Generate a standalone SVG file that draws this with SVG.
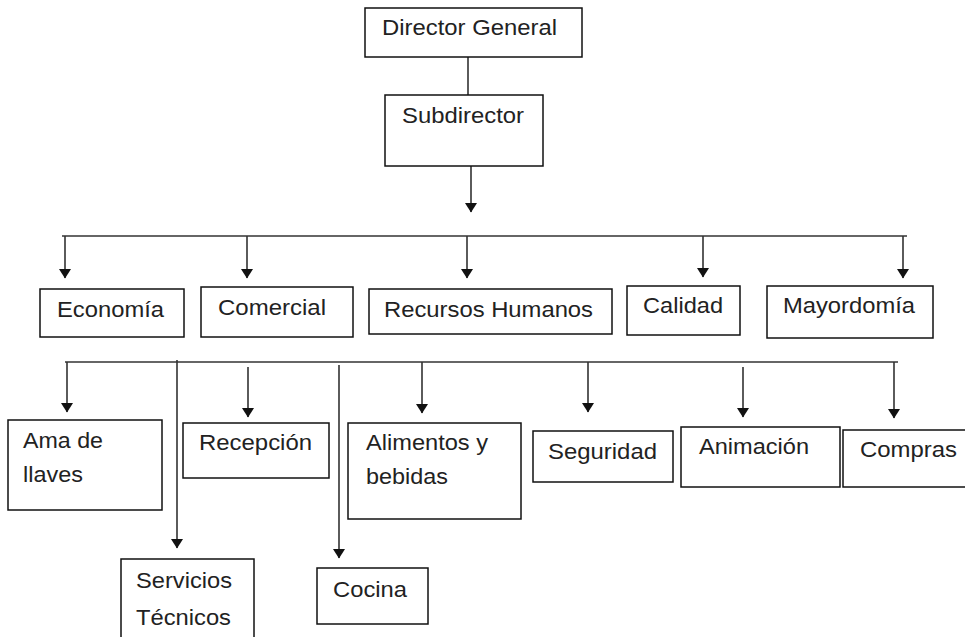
<svg xmlns="http://www.w3.org/2000/svg" width="965" height="637" viewBox="0 0 965 637">
<defs>
<style>
.box{fill:#fff;stroke:#111;stroke-width:1.5}
.lbl{font-family:"Liberation Sans",Arial,sans-serif;font-size:22px;fill:#222}
.con{stroke:#333;stroke-width:1.6;fill:none}
</style>
<marker id="ad" markerUnits="userSpaceOnUse" markerWidth="12" markerHeight="10" refX="6" refY="9" orient="0" viewBox="0 0 12 10">
<path d="M0,0 L12,0 L6,9.5 Z" fill="#111"/>
</marker>
</defs>
<rect width="965" height="637" fill="#fff"/>
<g id="connectors">
<line class="con" x1="468" y1="57" x2="468" y2="95"/>
<line class="con" x1="471" y1="166" x2="471" y2="212" marker-end="url(#ad)"/>
<line class="con" x1="62" y1="236" x2="907" y2="236"/>
<line class="con" x1="65" y1="236" x2="65" y2="278" marker-end="url(#ad)"/>
<line class="con" x1="247" y1="236" x2="247" y2="278" marker-end="url(#ad)"/>
<line class="con" x1="467" y1="236" x2="467" y2="278" marker-end="url(#ad)"/>
<line class="con" x1="703" y1="236" x2="703" y2="277" marker-end="url(#ad)"/>
<line class="con" x1="903" y1="236" x2="903" y2="278" marker-end="url(#ad)"/>
<line class="con" x1="65" y1="362" x2="898" y2="362"/>
<line class="con" x1="67" y1="362" x2="67" y2="412" marker-end="url(#ad)"/>
<line class="con" x1="177" y1="360" x2="177" y2="548" marker-end="url(#ad)"/>
<line class="con" x1="248" y1="367" x2="248" y2="417" marker-end="url(#ad)"/>
<line class="con" x1="339" y1="365" x2="339" y2="558" marker-end="url(#ad)"/>
<line class="con" x1="422" y1="362" x2="422" y2="413" marker-end="url(#ad)"/>
<line class="con" x1="588" y1="362" x2="588" y2="412" marker-end="url(#ad)"/>
<line class="con" x1="743" y1="367" x2="743" y2="417" marker-end="url(#ad)"/>
<line class="con" x1="894" y1="362" x2="894" y2="418" marker-end="url(#ad)"/>
</g>
<g id="director-general"><rect class="box" x="365" y="8" width="217" height="49"/><text class="lbl" x="382" y="35" textLength="175" lengthAdjust="spacingAndGlyphs">Director General</text></g>
<g id="subdirector"><rect class="box" x="385" y="95" width="158" height="71"/><text class="lbl" x="402" y="123" textLength="122" lengthAdjust="spacingAndGlyphs">Subdirector</text></g>
<g id="economia"><rect class="box" x="40" y="289" width="144" height="48"/><text class="lbl" x="57" y="317" textLength="107" lengthAdjust="spacingAndGlyphs">Economía</text></g>
<g id="comercial"><rect class="box" x="201" y="287" width="152" height="50"/><text class="lbl" x="218" y="315" textLength="108" lengthAdjust="spacingAndGlyphs">Comercial</text></g>
<g id="recursos-humanos"><rect class="box" x="369" y="289" width="243" height="45"/><text class="lbl" x="384" y="317" textLength="209" lengthAdjust="spacingAndGlyphs">Recursos Humanos</text></g>
<g id="calidad"><rect class="box" x="627" y="286" width="113" height="49"/><text class="lbl" x="643" y="313" textLength="80" lengthAdjust="spacingAndGlyphs">Calidad</text></g>
<g id="mayordomia"><rect class="box" x="767" y="286" width="166" height="52"/><text class="lbl" x="783" y="313" textLength="132" lengthAdjust="spacingAndGlyphs">Mayordomía</text></g>
<g id="ama-de-llaves"><rect class="box" x="8" y="420" width="154" height="90"/><text class="lbl" x="23" y="448" textLength="80" lengthAdjust="spacingAndGlyphs">Ama de</text><text class="lbl" x="23" y="482" textLength="60" lengthAdjust="spacingAndGlyphs">llaves</text></g>
<g id="recepcion"><rect class="box" x="183" y="423" width="146" height="55"/><text class="lbl" x="199" y="450" textLength="113" lengthAdjust="spacingAndGlyphs">Recepción</text></g>
<g id="alimentos-y-bebidas"><rect class="box" x="348" y="423" width="173" height="96"/><text class="lbl" x="366" y="450" textLength="122" lengthAdjust="spacingAndGlyphs">Alimentos y</text><text class="lbl" x="366" y="484" textLength="82" lengthAdjust="spacingAndGlyphs">bebidas</text></g>
<g id="seguridad"><rect class="box" x="533" y="431" width="140" height="51"/><text class="lbl" x="548" y="459" textLength="109" lengthAdjust="spacingAndGlyphs">Seguridad</text></g>
<g id="animacion"><rect class="box" x="681" y="427" width="159" height="60"/><text class="lbl" x="699" y="454" textLength="110" lengthAdjust="spacingAndGlyphs">Animación</text></g>
<g id="compras"><rect class="box" x="843" y="430" width="130" height="57"/><text class="lbl" x="860" y="457" textLength="97" lengthAdjust="spacingAndGlyphs">Compras</text></g>
<g id="servicios-tecnicos"><rect class="box" x="121" y="559" width="133" height="90"/><text class="lbl" x="136" y="588" textLength="96" lengthAdjust="spacingAndGlyphs">Servicios</text><text class="lbl" x="136" y="625" textLength="95" lengthAdjust="spacingAndGlyphs">Técnicos</text></g>
<g id="cocina"><rect class="box" x="317" y="568" width="111" height="56"/><text class="lbl" x="333" y="597" textLength="74" lengthAdjust="spacingAndGlyphs">Cocina</text></g>
</svg>
